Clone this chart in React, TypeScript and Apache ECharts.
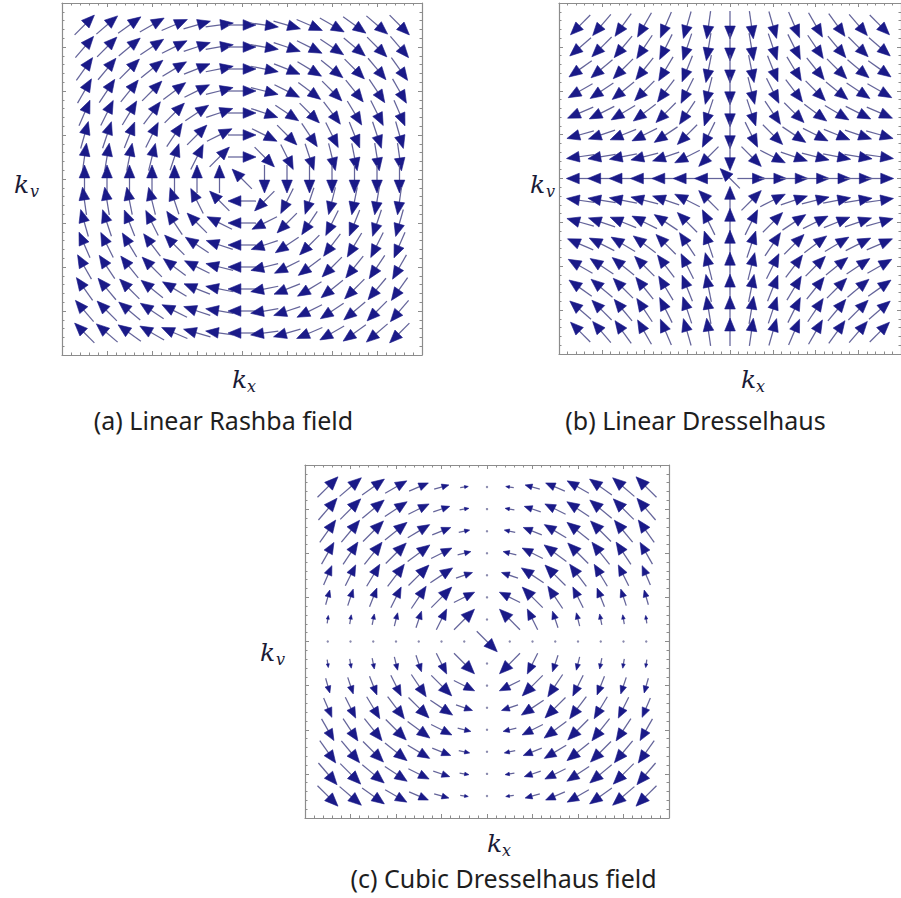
import React, { useEffect, useRef } from "react";
import * as echarts from "echarts";

// Sample grid (15 x 15) in units of the grid spacing
const kxSamples = [-7, -6, -5, -4, -3, -2, -1, 0, 1, 2, 3, 4, 5, 6, 7];
const kySamples = [7, 6, 5, 4, 3, 2, 1, 0, -1, -2, -3, -4, -5, -6, -7];

// (a) Linear Rashba field: x-component per row, y-component per column
const rashbaXByRow = [7, 6, 5, 4, 3, 2, 1, 0, -1, -2, -3, -4, -5, -6, -7];
const rashbaYByCol = [7, 6, 5, 4, 3, 2, 1, 0, -1, -2, -3, -4, -5, -6, -7];

// (b) Linear Dresselhaus: x-component per column, y-component per row
const dressXByCol = [-7, -6, -5, -4, -3, -2, -1, 0, 1, 2, 3, 4, 5, 6, 7];
const dressYByRow = [-7, -6, -5, -4, -3, -2, -1, 0, 1, 2, 3, 4, 5, 6, 7];

// (c) Cubic Dresselhaus: x-component = colFactor * rowFactor, same for y
const cubicXColFactor = [7, 6, 5, 4, 3, 2, 1, 0, -1, -2, -3, -4, -5, -6, -7];
const cubicXRowFactor = [49, 36, 25, 16, 9, 4, 1, 0, 1, 4, 9, 16, 25, 36, 49];
const cubicYRowFactor = [7, 6, 5, 4, 3, 2, 1, 0, -1, -2, -3, -4, -5, -6, -7];
const cubicYColFactor = [49, 36, 25, 16, 9, 4, 1, 0, 1, 4, 9, 16, 25, 36, 49];

// Arrows drawn at the origin in the reference (direction only)
const originArrowA = [-1, 1];
const originArrowB = [-1, 1];
const originArrowC = [1, -1];

const captions = ["(a) Linear Rashba field", "(b) Linear Dresselhaus", "(c) Cubic Dresselhaus field"];

type Row = [number, number, number, number, number];

function buildA(): Row[] {
  const out: Row[] = [];
  kySamples.forEach((ky, r) =>
    kxSamples.forEach((kx, c) => {
      let u = rashbaXByRow[r], v = rashbaYByCol[c];
      if (u === 0 && v === 0) { u = originArrowA[0]; v = originArrowA[1]; }
      out.push([kx, ky, u, v, 1]);
    })
  );
  return out;
}
function buildB(): Row[] {
  const out: Row[] = [];
  kySamples.forEach((ky, r) =>
    kxSamples.forEach((kx, c) => {
      let u = dressXByCol[c], v = dressYByRow[r];
      if (u === 0 && v === 0) { u = originArrowB[0]; v = originArrowB[1]; }
      out.push([kx, ky, u, v, 1]);
    })
  );
  return out;
}
// Field drawn normalised by |k|^3 (as in the reference, length depends on angle only)
function buildC(): Row[] {
  const out: Row[] = [];
  const tmp: Row[] = [];
  let maxRel = 0;
  kySamples.forEach((ky, r) =>
    kxSamples.forEach((kx, c) => {
      const u = cubicXColFactor[c] * cubicXRowFactor[r];
      const v = cubicYRowFactor[r] * cubicYColFactor[c];
      const k = Math.hypot(kx, ky);
      const rel = k === 0 ? 0 : Math.hypot(u, v) / (k * k * k);
      maxRel = Math.max(maxRel, rel);
      tmp.push([kx, ky, u, v, rel]);
    })
  );
  tmp.forEach(([kx, ky, u, v, rel]) => {
    if (kx === 0 && ky === 0) out.push([kx, ky, originArrowC[0], originArrowC[1], 1]);
    else out.push([kx, ky, u, v, rel / maxRel]);
  });
  return out;
}

const HEAD = "#1a1a88";
const SHAFT = "#64649a";

function makeRender(fullLen: number) {
  return (params: any, api: any) => {
    const x = api.value(0), y = api.value(1), u = api.value(2), v = api.value(3), s = api.value(4);
    const p = api.coord([x, y]);
    if (s <= 0.001) {
      return { type: "circle", shape: { cx: p[0], cy: p[1], r: 1.2 }, style: { fill: "#8a8aae" } };
    }
    const m = Math.hypot(u, v);
    const dx = u / m, dy = -v / m;
    const L = fullLen * s;
    const tail = [p[0] - (dx * L) / 2, p[1] - (dy * L) / 2];
    const tip = [p[0] + (dx * L) / 2, p[1] + (dy * L) / 2];
    const hl = L * 0.46, hw = L * 0.19;
    const bx = tip[0] - dx * hl, by = tip[1] - dy * hl;
    const nx = -dy, ny = dx;
    return {
      type: "group",
      children: [
        { type: "line", shape: { x1: tail[0], y1: tail[1], x2: bx + dx * 2, y2: by + dy * 2 }, style: { stroke: SHAFT, lineWidth: 1.25 } },
        {
          type: "polygon",
          shape: { points: [tip, [bx + nx * hw, by + ny * hw], [bx - nx * hw, by - ny * hw]] },
          style: { fill: HEAD, stroke: HEAD, lineWidth: 0.6, lineJoin: "round" },
        },
      ],
    };
  };
}

const frameColor = "#8c8c8c";
function axisCommon(position: string, gridIndex: number) {
  return {
    type: "value",
    gridIndex,
    position,
    min: -8,
    max: 8,
    interval: 2,
    axisLine: { show: true, onZero: false, lineStyle: { color: frameColor, width: 1.2 } },
    axisTick: { show: true, inside: true, length: 4, lineStyle: { color: frameColor } },
    minorTick: { show: true, splitNumber: 5, length: 2.5, lineStyle: { color: frameColor } },
    axisLabel: { show: false },
    splitLine: { show: false },
    minorSplitLine: { show: false },
  };
}

function kLabel(x: number, y: number, sub: string, subDx: number, subDy: number) {
  const color = "#1a1a36";
  return [
    {
      type: "text", x, y, silent: true,
      style: { text: "k", font: "italic 25px 'DejaVu Serif'", fill: color, align: "left", verticalAlign: "middle", textAlign: "left", textVerticalAlign: "middle" },
    },
    {
      type: "text", x: x + subDx, y: y + subDy, silent: true,
      style: { text: sub, font: "italic 16px 'DejaVu Serif'", fill: color, align: "left", verticalAlign: "middle", textAlign: "left", textVerticalAlign: "middle" },
    },
  ];
}

function caption(x: number, y: number, text: string) {
  return {
    type: "text", x, y, silent: true,
    style: { text, font: "25px 'Noto Sans'", fill: "#1e1e1e", align: "center", verticalAlign: "middle", textAlign: "center", textVerticalAlign: "middle" },
  };
}

export default function App() {
  const ref = useRef<HTMLDivElement>(null);
  useEffect(() => {
    if (!ref.current) return;
    const chart = echarts.init(ref.current, null, { renderer: "svg" });
    const grids = [
      { left: 62, top: 3, width: 360, height: 352 },
      { left: 559, top: 3, width: 350, height: 351 },
      { left: 305, top: 465, width: 364, height: 353 },
    ];
    const option: any = {
      animation: false,
      backgroundColor: "#ffffff",
      grid: grids.map((g) => ({ ...g, containLabel: false, show: false })),
      xAxis: [0, 1, 2].flatMap((i) => [axisCommon("bottom", i), axisCommon("top", i)]),
      yAxis: [0, 1, 2].flatMap((i) => [axisCommon("left", i), axisCommon("right", i)]),
      series: [
        { type: "custom", xAxisIndex: 0, yAxisIndex: 0, data: buildA(), renderItem: makeRender(28), encode: { x: 0, y: 1 }, clip: false },
        { type: "custom", xAxisIndex: 2, yAxisIndex: 2, data: buildB(), renderItem: makeRender(28), encode: { x: 0, y: 1 }, clip: false },
        { type: "custom", xAxisIndex: 4, yAxisIndex: 4, data: buildC(), renderItem: makeRender(29), encode: { x: 0, y: 1 }, clip: false },
      ],
      graphic: [
        ...kLabel(14, 184, "v", 16, 7),
        ...kLabel(530, 184, "v", 16, 7),
        ...kLabel(260, 652, "v", 16, 7),
        ...kLabel(232, 379, "x", 15, 7),
        ...kLabel(741, 379, "x", 15, 7),
        ...kLabel(487, 843, "x", 15, 7),
        caption(223.5, 420, captions[0]),
        caption(695.5, 420, captions[1]),
        caption(503.5, 878, captions[2]),
      ],
    };
    chart.setOption(option);
    return () => chart.dispose();
  }, []);
  return <div ref={ref} style={{ position: "fixed", left: 0, top: 0, width: 901, height: 898, background: "#fff" }} />;
}
